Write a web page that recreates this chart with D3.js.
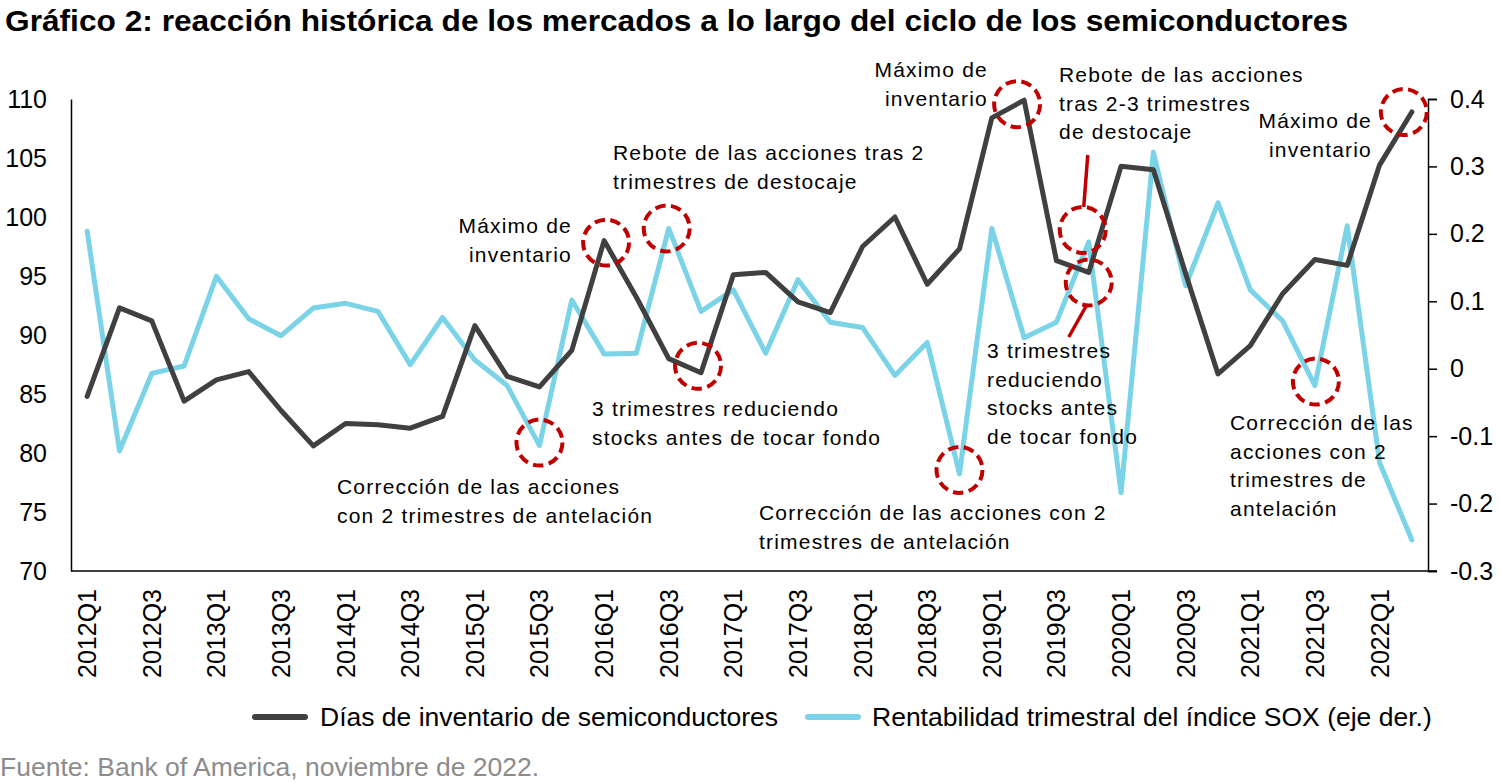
<!DOCTYPE html>
<html><head><meta charset="utf-8">
<script src="https://cdn.jsdelivr.net/npm/d3@7/dist/d3.min.js"></script>
<style>
html,body{margin:0;padding:0;background:#fff;}
svg{display:block;font-family:"Liberation Sans",Arial,sans-serif;}
</style></head>
<body>
<svg id="chart" width="1500" height="783"></svg>
<script>
const categories = [];
const years = d3.range(2012, 2023);
years.forEach(y => [1,2,3,4].forEach(q => categories.push(y + "Q" + q)));
categories.splice(42); // 2012Q1 .. 2022Q2

const inventoryDays = [84.8,92.3,91.2,84.4,86.2,86.9,83.6,80.6,82.5,82.4,82.1,83.1,
  90.8,86.5,85.6,88.7,98.0,93.2,88.0,86.8,95.1,95.3,92.8,91.9,97.5,100.0,94.3,97.3,
  108.4,109.9,96.3,95.3,104.3,104.0,95.2,86.7,89.1,93.5,96.4,95.9,104.4,108.9];
const soxReturn = [0.204,-0.122,-0.007,0.004,0.137,0.074,0.049,0.090,0.097,0.085,0.006,0.076,
  0.013,-0.025,-0.114,0.102,0.022,0.023,0.208,0.085,0.117,0.023,0.132,0.069,0.061,-0.010,0.039,-0.156,
  0.208,0.046,0.069,0.188,-0.184,0.321,0.123,0.246,0.117,0.071,-0.025,0.212,-0.139,-0.254];

const leftTicks = [70,75,80,85,90,95,100,105,110];
const rightTicks = [-0.3,-0.2,-0.1,0,0.1,0.2,0.3,0.4];
const xTickLabels = categories.filter(c => c.endsWith("Q1") || c.endsWith("Q3"));

const seriesNames = ["Días de inventario de semiconductores", "Rentabilidad trimestral del índice SOX (eje der.)"];
const titleText = "Gráfico 2: reacción histórica de los mercados a lo largo del ciclo de los semiconductores";
const sourceText = "Fuente: Bank of America, noviembre de 2022.";

// circles: [category, series, dx, dy]
const circleMarks = [
  ["2015Q3","sox",0,-3],
  ["2016Q1","inv",2,2],
  ["2016Q3","sox",-2,0],
  ["2016Q4","inv",-3,-7],
  ["2018Q4","sox",0,-4],
  ["2019Q2","inv",-7,4],
  ["2019Q4","sox",-6,-12],
  ["2019Q4","inv",0,10],
  ["2021Q3","sox",1,-4],
  ["2022Q2","inv",-8,0]
];

// annotation texts: lines, x, first baseline y, anchor
const notes = [
  {lines:["Corrección de las acciones","con 2 trimestres de antelación"], x:337, y:494, a:"start"},
  {lines:["3 trimestres reduciendo","stocks antes de tocar fondo"], x:592, y:416, a:"start"},
  {lines:["Máximo de","inventario"], x:572, y:233, a:"end"},
  {lines:["Rebote de las acciones tras 2","trimestres de destocaje"], x:613, y:160, a:"start"},
  {lines:["Máximo de","inventario"], x:988, y:77, a:"end"},
  {lines:["Rebote de las acciones","tras 2-3 trimestres","de destocaje"], x:1059, y:82, a:"start"},
  {lines:["Máximo de","inventario"], x:1372, y:128, a:"end"},
  {lines:["3 trimestres","reduciendo","stocks antes","de tocar fondo"], x:987, y:358, a:"start"},
  {lines:["Corrección de las acciones con 2","trimestres de antelación"], x:759, y:520, a:"start"},
  {lines:["Corrección de las","acciones con 2","trimestres de","antelación"], x:1230, y:430, a:"start"}
];

const M = {left:71, right:1428, top:99, bottom:571};
const svg = d3.select("#chart");

const x = d3.scaleBand().domain(categories).range([M.left, M.right]).padding(0);
const cx = c => x(c) + x.bandwidth()/2;
const yL = d3.scaleLinear().domain([70,110]).range([M.bottom, M.top]);
const yR = d3.scaleLinear().domain([-0.3,0.4]).range([M.bottom, M.top]);

const BLACK = "#404040", CYAN = "#7ad3e6", RED = "#c00000";

// title
svg.append("text").attr("x",5).attr("y",31).attr("font-size",30).attr("font-weight","bold")
  .attr("fill","#000").attr("textLength",1343).attr("lengthAdjust","spacingAndGlyphs").text(titleText);

// left axis
const gL = svg.append("g").attr("transform",`translate(${M.left},0)`)
  .call(d3.axisLeft(yL).tickValues(leftTicks).tickSize(0).tickPadding(24).tickFormat(d3.format("d")));
gL.select(".domain").attr("stroke","#000").attr("stroke-width",1.5);
gL.selectAll("text").attr("font-size",25).attr("fill","#000").attr("font-family","Liberation Sans, Arial, sans-serif");

// right axis
const gR = svg.append("g").attr("transform",`translate(${M.right},0)`)
  .call(d3.axisRight(yR).tickValues(rightTicks).tickSize(9).tickPadding(13)
    .tickFormat(d => Math.abs(d) < 1e-9 ? "0" : d.toFixed(1)));
gR.select(".domain").attr("stroke","#000").attr("stroke-width",1.5);
gR.selectAll(".tick line").attr("stroke","#000").attr("stroke-width",1.5);
gR.selectAll("text").attr("font-size",25).attr("fill","#000").attr("font-family","Liberation Sans, Arial, sans-serif");

// bottom axis
const gB = svg.append("g").attr("transform",`translate(0,${M.bottom})`)
  .call(d3.axisBottom(x).tickValues(xTickLabels).tickSize(0).tickPadding(0));
gB.select(".domain").attr("stroke","#000").attr("stroke-width",1.5)
  .attr("d",`M${M.left},0H${M.right+9}`);
gB.selectAll("text").attr("font-size",25).attr("fill","#000").attr("font-family","Liberation Sans, Arial, sans-serif")
  .attr("transform","rotate(-90)").attr("text-anchor","end")
  .attr("x",-18).attr("y",0).attr("dy","0.36em");

// lines
const lineL = d3.line().x((d,i)=>cx(categories[i])).y(d=>yL(d));
const lineR = d3.line().x((d,i)=>cx(categories[i])).y(d=>yR(d));
svg.append("path").datum(soxReturn).attr("d",lineR).attr("fill","none")
  .attr("stroke",CYAN).attr("stroke-width",5).attr("stroke-linejoin","round").attr("stroke-linecap","round");
svg.append("path").datum(inventoryDays).attr("d",lineL).attr("fill","none")
  .attr("stroke",BLACK).attr("stroke-width",5).attr("stroke-linejoin","round").attr("stroke-linecap","round");

// circles
const idx = c => categories.indexOf(c);
svg.append("g").selectAll("circle").data(circleMarks).join("circle")
  .attr("cx", d => cx(d[0]) + d[2])
  .attr("cy", d => (d[1]==="inv" ? yL(inventoryDays[idx(d[0])]) : yR(soxReturn[idx(d[0])])) + d[3])
  .attr("r", 23).attr("fill","none").attr("stroke",RED).attr("stroke-width",4)
  .attr("stroke-dasharray","10.5 5.5");

// leader lines for 2019Q4 annotations
const c19 = cx("2019Q4");
svg.append("line").attr("x1",c19-1).attr("y1",155).attr("x2",c19-5).attr("y2",207)
  .attr("stroke",RED).attr("stroke-width",3.5);
svg.append("line").attr("x1",c19-2).attr("y1",305).attr("x2",c19-20).attr("y2",337)
  .attr("stroke",RED).attr("stroke-width",3.5);

// annotation texts
const gN = svg.append("g").attr("font-size",21).attr("fill","#000").attr("letter-spacing","1.2px");
notes.forEach(n => {
  const t = gN.append("text").attr("text-anchor",n.a);
  n.lines.forEach((l,i) => t.append("tspan").attr("x",n.x).attr("y",n.y + i*28.7).text(l));
});

// legend
const legY = 717;
const legend = [
  {name:seriesNames[0], color:BLACK, x1:255, x2:305, tx:320},
  {name:seriesNames[1], color:CYAN, x1:808, x2:858, tx:872}
];
legend.forEach(l => {
  svg.append("line").attr("x1",l.x1).attr("x2",l.x2).attr("y1",legY).attr("y2",legY)
    .attr("stroke",l.color).attr("stroke-width",6).attr("stroke-linecap","round");
  svg.append("text").attr("x",l.tx).attr("y",legY).attr("dy","0.35em").attr("font-size",26.5)
    .attr("fill","#000").text(l.name);
});

// source
svg.append("text").attr("x",0).attr("y",776).attr("font-size",26.5).attr("fill","#8c8c8c").text(sourceText);
</script>
</body></html>
